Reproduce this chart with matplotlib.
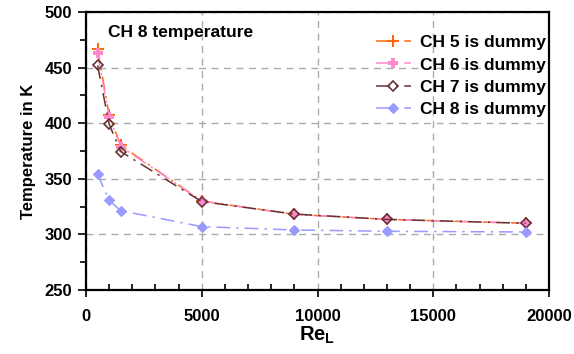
import matplotlib
matplotlib.use('Agg')
import matplotlib.pyplot as plt
from matplotlib.ticker import MultipleLocator

plt.rcParams['font.family'] = ['Liberation Sans', 'DejaVu Sans']
plt.rcParams['mathtext.fontset'] = 'custom'
plt.rcParams['mathtext.bf'] = 'Liberation Sans:bold'
plt.rcParams['mathtext.rm'] = 'Liberation Sans:bold'

# Reynolds numbers and temperatures (K)
re_l = [500, 1000, 1500, 5000, 9000, 13000, 19000]
ch5 = [467, 407, 380, 330, 318, 313.5, 310]
ch6 = [463, 405.5, 379, 330, 318, 313.5, 310]
ch7 = [452, 399, 374.5, 329.5, 318.3, 313.5, 310]
ch8 = [354, 330.5, 321.3, 307, 304, 302.8, 302.2]

labels = ['CH 5 is dummy', 'CH 6 is dummy', 'CH 7 is dummy', 'CH 8 is dummy']

fig = plt.figure(figsize=(5.74, 3.54), dpi=100)
ax = fig.add_axes([86/574, 1 - 290/354, 463/574, 278/354])

ls = (0, (9, 4, 1.5, 4))
ax.plot(re_l, ch5, color='#FF6611', ls=ls, lw=1.1, marker='+', ms=8, mew=1.5, label=labels[0])
ax.plot(re_l, ch6, color='#FF88CC', ls=ls, lw=1.1, marker='P', ms=7, mew=0, label=labels[1])
ax.plot(re_l, ch7, color='#663333', ls=ls, lw=1.1, marker='D', ms=5, mew=1.2, mfc='none', mec='#663333', label=labels[2])
ax.plot(re_l, ch8, color='#9999FF', ls=ls, lw=1.1, marker='D', ms=5, mew=0.8, label=labels[3])

ax.set_xlim(0, 20000)
ax.set_ylim(250, 500)
ax.xaxis.set_major_locator(MultipleLocator(5000))
ax.xaxis.set_minor_locator(MultipleLocator(1000))
ax.yaxis.set_major_locator(MultipleLocator(50))
ax.yaxis.set_minor_locator(MultipleLocator(25))
ax.tick_params(axis='x', which='major', direction='out', length=5, width=1.2, pad=9)
ax.tick_params(axis='x', which='minor', direction='in', length=4, width=1.2)
ax.tick_params(axis='y', which='major', direction='out', length=6, width=1.2, pad=4)
ax.tick_params(axis='y', which='minor', direction='out', length=4, width=1.2)
for t in ax.get_xticklabels() + ax.get_yticklabels():
    t.set_fontweight('bold')
    t.set_fontsize(12)

ax.grid(True, which='major', color='#aaaaaa', ls=(0, (5, 4)), lw=1)
for s in ax.spines.values():
    s.set_linewidth(1.6)
    s.set_color('black')

ax.set_ylabel('Temperature in K', fontsize=12, fontweight='bold', labelpad=6)
ax.set_xlabel(r'$\mathbf{Re_L}$', fontsize=14.5, labelpad=0)

ax.text(0.047, 0.955, 'CH 8 temperature', transform=ax.transAxes, fontsize=12.5,
        fontweight='bold', va='top', ha='left')

leg = ax.legend(loc='upper right', frameon=False, bbox_to_anchor=(1.015, 0.955),
                prop={'weight': 'bold', 'size': 12.5}, handlelength=2.0,
                handletextpad=0.5, labelspacing=0.42, borderaxespad=0.2)

fig.savefig('out.png', dpi=100)
